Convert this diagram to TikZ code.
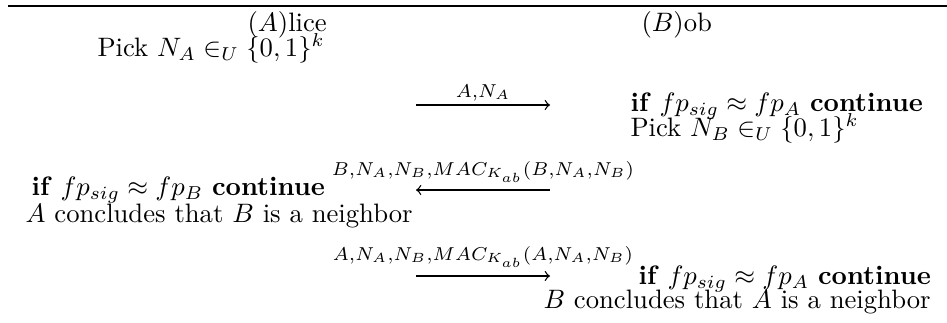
\documentclass[tikz,border=0pt]{standalone}
\usepackage{amssymb}
\usepackage{mathtools}

\begin{document}
\begin{tikzpicture}[x=0.375pt, y=-0.375pt,
    txt/.style={anchor=base west, inner sep=0pt},
    lbl/.style={anchor=base, inner sep=0pt},
    msg/.style={->, line width=0.5pt}]
            \useasboundingbox (0,0) rectangle (947,322);
            % top rule
            \coordinate (ruleL) at (8, 6);
            \coordinate (ruleR) at (947, 6);
            \draw[line width=1pt] (ruleL) -- (ruleR);
            % headers
            \node[txt] (alice) at (247, 31) {$(A)$lice};
            \node[txt] (bob) at (641, 31) {$(B)$ob};
            % alice side
            \node[txt] (pickA) at (97, 56) {Pick $N_A \in_U \{0,1\}^k$};
            \node[txt] (checkB) at (31, 195) {\textbf{if} $fp_{sig} \approx fp_B$ \textbf{continue}};
            \node[txt] (doneA) at (25, 222) {$A$ concludes that $B$ is a neighbor};
            % bob side
            \node[txt] (checkA) at (630, 111) {\textbf{if} $fp_{sig} \approx fp_A$ \textbf{continue}};
            \node[txt] (pickB) at (630, 136) {Pick $N_B \in_U \{0,1\}^k$};
            \node[txt] (checkA2) at (638, 284) {\textbf{if} $fp_{sig} \approx fp_A$ \textbf{continue}};
            \node[txt] (doneB) at (543, 308) {$B$ concludes that $A$ is a neighbor};
            % message ends
            \coordinate (a1) at (416, 105);
            \coordinate (b1) at (550, 105);
            \coordinate (a2) at (416, 190);
            \coordinate (b2) at (550, 190);
            \coordinate (a3) at (416, 276);
            \coordinate (b3) at (550, 276);
            % messages
            \draw[msg] (a1) -- (b1);
            \draw[msg] (b2) -- (a2);
            \draw[msg] (a3) -- (b3);
            \node[lbl] (m1) at (483, 97) {$\scriptstyle A,N_A$};
            \node[lbl] (m2) at (483, 175) {$\scriptstyle B,N_A,N_B,MAC_{K_{ab}}(B,N_A,N_B)$};
            \node[lbl] (m3) at (483, 260) {$\scriptstyle A,N_A,N_B,MAC_{K_{ab}}(A,N_A,N_B)$};
        \end{tikzpicture}
\end{document}
